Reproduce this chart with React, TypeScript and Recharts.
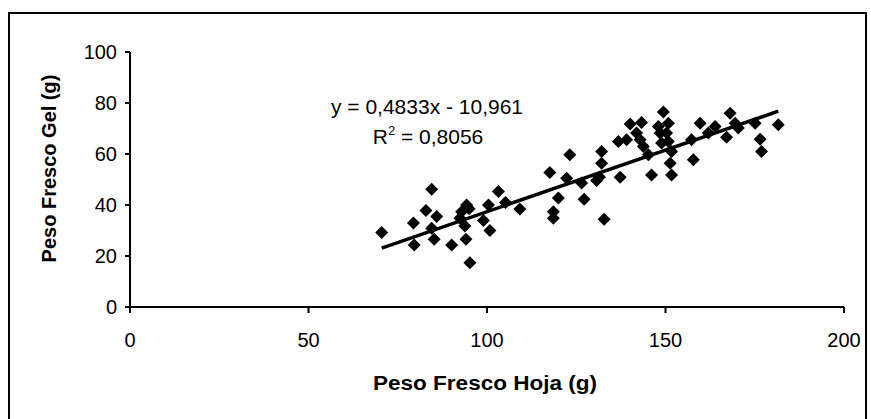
import { ReferenceLine, Scatter, ScatterChart, XAxis, YAxis } from "recharts"

// Peso fresco de hoja (g)
const leafWeight = [
    70.5, 79.4, 79.6, 82.9, 84.5, 85.9, 84.5, 85.2, 90.1, 92.4,
    92.9, 93.8, 94.3, 95.0, 94.1, 95.2, 99.0, 100.4, 100.8, 103.2,
    105.2, 109.2, 117.6, 118.6, 118.6, 120.0, 122.3, 123.2, 126.5, 127.2,
    130.7, 131.5, 132.1, 132.1, 132.8, 136.8, 137.3, 139.1, 140.1, 141.9,
    142.9, 143.3, 143.8, 145.2, 146.1, 148.0, 148.5, 148.9, 149.4, 150.3,
    150.8, 150.8, 151.7, 151.3, 151.7, 157.3, 157.8, 159.7, 162.0, 163.9,
    167.1, 168.1, 169.5, 170.4, 175.1, 176.5, 176.9, 181.6
]

// Peso fresco de gel (g)
const gelWeight = [
    29.2, 32.9, 24.3, 37.8, 46.2, 35.5, 30.9, 26.6, 24.3, 34.8,
    37.4, 31.8, 40.0, 38.5, 26.6, 17.4, 33.9, 40.0, 30.0, 45.3,
    41.0, 38.4, 52.7, 37.4, 34.8, 42.7, 50.5, 59.7, 48.6, 42.3,
    49.6, 51.0, 56.4, 61.0, 34.4, 64.9, 50.9, 65.6, 71.8, 68.2,
    65.6, 72.4, 62.9, 59.7, 51.8, 70.8, 68.2, 64.3, 76.5, 68.2,
    72.1, 64.9, 61.0, 56.4, 51.8, 65.6, 57.7, 72.1, 68.2, 70.8,
    66.6, 76.0, 72.1, 70.2, 72.1, 65.8, 61.0, 71.5
]

const xTicks = [0, 50, 100, 150, 200]
const yTicks = [0, 20, 40, 60, 80, 100]

const slope = 0.4833
const intercept = -10.961

const points = leafWeight.map((x, i) => ({ x, y: gelWeight[i] }))
const xMin = Math.min(...leafWeight)
const xMax = Math.max(...leafWeight)
const trend = [
    { x: xMin, y: slope * xMin + intercept },
    { x: xMax, y: slope * xMax + intercept }
]

const font = "'Liberation Sans', Arial, sans-serif"

const Diamond = ({ cx, cy }: { cx?: number, cy?: number }) => {
    if (cx == null || cy == null) return null
    const r = 6.5
    return (
        <polygon
            points={`${cx},${cy - r} ${cx + r},${cy} ${cx},${cy + r} ${cx - r},${cy}`}
            fill="#000"
        />
    )
}

export default function App() {
    return (
        <div style={{ position: "absolute", left: 0, top: 0, width: 871, height: 419, background: "#fff", overflow: "hidden", fontFamily: font }}>
            <ScatterChart
                width={871}
                height={419}
                margin={{ top: 52, right: 27, bottom: 0, left: 0 }}
            >
                <XAxis
                    type="number"
                    dataKey="x"
                    domain={[0, 200]}
                    ticks={xTicks}
                    height={112}
                    stroke="#000"
                    strokeWidth={2}
                    tickSize={6}
                    tickMargin={20}
                    tick={{ fill: "#000", fontSize: 20, fontFamily: font }}
                />
                <YAxis
                    type="number"
                    dataKey="y"
                    domain={[0, 100]}
                    ticks={yTicks}
                    width={130}
                    stroke="#000"
                    strokeWidth={2}
                    tickSize={5}
                    tickMargin={8}
                    tick={{ fill: "#000", fontSize: 20, fontFamily: font }}
                />
                <Scatter
                    data={points}
                    shape={<Diamond />}
                    isAnimationActive={false}
                />
                <ReferenceLine
                    segment={trend}
                    stroke="#000"
                    strokeWidth={3.5}
                    ifOverflow="extendDomain"
                />
            </ScatterChart>

            <svg
                width={871}
                height={419}
                style={{ position: "absolute", left: 0, top: 0, pointerEvents: "none" }}
            >
                <rect x={9} y={13} width={857} height={420} fill="none" stroke="#000" strokeWidth={2} />
                <text
                    x={485}
                    y={390}
                    textAnchor="middle"
                    fontFamily={font}
                    fontSize={20}
                    fontWeight="bold"
                    textLength={224}
                    lengthAdjust="spacingAndGlyphs"
                >
                    Peso Fresco Hoja (g)
                </text>
                <text
                    x={0}
                    y={0}
                    transform="translate(56, 168.5) rotate(-90)"
                    textAnchor="middle"
                    fontFamily={font}
                    fontSize={20}
                    fontWeight="bold"
                >
                    Peso Fresco Gel (g)
                </text>
                <text x={427} y={114} textAnchor="middle" fontFamily={font} fontSize={21}>
                    y = 0,4833x - 10,961
                </text>
                <text x={428} y={144} textAnchor="middle" fontFamily={font} fontSize={21}>
                    R<tspan dy={-9} fontSize={13}>2</tspan><tspan dy={9}> = 0,8056</tspan>
                </text>
            </svg>
        </div>
    )
}
